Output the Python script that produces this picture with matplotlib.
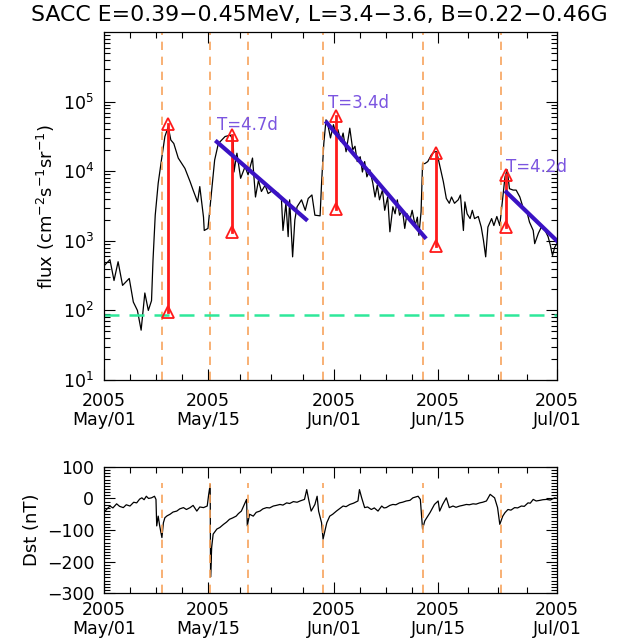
import numpy as np
import matplotlib
matplotlib.use("Agg")
from matplotlib import pyplot as plt
from matplotlib.ticker import FixedLocator, MultipleLocator, LogLocator, NullFormatter

# days since 2005 May 01
flux_day = [0.0, 0.8, 1.35, 1.9, 2.5, 3.4, 3.95, 4.5, 5.0, 5.5, 5.97, 6.4, 6.6, 6.9, 7.3, 7.8,
            8.2, 8.65, 9.0, 9.4, 10.0, 10.9, 11.6, 12.0, 12.6, 12.9, 13.4, 13.5, 14.0, 14.5,
            14.9, 15.4, 16.3, 17.0, 17.4, 17.5, 17.9, 18.4, 19.0, 19.4, 20.0, 20.4, 20.8,
            21.2, 21.7, 22.1, 22.8, 23.5, 23.9, 24.1, 24.5, 24.8, 25.0, 25.4, 25.7, 26.0,
            26.6, 27.1, 27.5, 28.0, 28.4, 29.1, 29.3, 29.6, 29.9, 30.2, 30.5, 30.9, 31.2,
            31.5, 31.9, 32.2, 32.6, 32.9, 33.1, 33.5, 33.8, 34.1, 34.5, 34.8, 35.1, 35.4,
            35.8, 36.2, 36.5, 36.8, 37.1, 37.5, 37.8, 38.2, 38.5, 38.9, 39.2, 39.5, 39.8,
            40.2, 40.5, 40.8, 41.2, 41.5, 41.9, 42.2, 42.4, 42.7, 42.9, 43.2, 43.6, 44.1,
            44.5, 44.8, 45.2, 45.7, 46.1, 46.5, 46.8, 47.2, 47.7, 48.0, 48.4, 48.6, 48.9,
            49.3, 49.6, 49.9, 50.4, 50.8, 51.1, 51.4, 51.7, 52.2, 52.5, 52.9, 53.3, 53.4,
            53.7, 54.0, 54.3, 54.6, 55.1, 55.5, 56.0, 56.4, 56.9, 57.3, 57.8, 58.0, 58.5,
            58.9, 59.4, 59.8, 60.1, 60.4, 60.7, 61.0]
flux = [437, 537, 269, 501, 229, 288, 132, 100, 52, 178, 100, 138, 525, 2340, 6760, 16200,
        31600, 43700, 28200, 25100, 15500, 11000, 7080, 5370, 3630, 6030, 2190, 1410, 1510, 5370,
        14500, 25100, 31600, 33100, 28200, 9770, 18200, 7940, 11700, 8910, 15500, 4270, 7410,
        5130, 6310, 4790, 5370, 4790, 3890, 1410, 3470, 1150, 3890, 589, 2000, 3090,
        3890, 2750, 4070, 4570, 2340, 2290, 6760, 25100, 55000, 43700, 30200, 46800, 35500,
        39800, 26900, 35500, 19100, 30200, 41700, 20400, 22900, 13800, 16200, 9770, 13800, 8320,
        10500, 6760, 4270, 6310, 3890, 5370, 2750, 4270, 1350, 3090, 2450, 3890, 2340,
        2750, 1510, 2450, 2000, 2750, 1660, 2190, 1200, 2630, 12900, 12900, 13800, 17400,
        19100, 19100, 12300, 7080, 4070, 3470, 4270, 3470, 3890, 4570, 1410, 3630, 2450,
        2090, 2750, 2090, 2240, 1580, 1020, 589, 1580, 2090, 1660, 2240, 1660, 2090,
        4270, 8320, 10500, 5620, 5370, 5370, 4270, 3090, 2750, 1860, 1410, 912, 1290,
        1580, 1410, 1150, 871, 617, 813, 912]

dst_day = [0.13, 0.8, 1.2, 1.7, 2.1, 2.6, 3.0, 3.5, 4.0, 4.4, 4.8, 5.1, 5.4, 5.7, 6.0, 6.4,
           6.8, 7.0, 7.1, 7.3, 7.5, 7.8, 8.0, 8.2, 8.5, 8.9, 9.3, 9.8, 10.2, 10.7, 11.1,
           11.6, 12.0, 12.5, 12.9, 13.4, 13.9, 14.1, 14.3, 14.32, 14.35, 14.5, 14.7,
           15.2, 15.6, 16.1, 16.5, 16.9, 17.3, 17.8, 18.1, 18.5, 19.0, 19.2, 19.3, 19.6,
           20.1, 20.5, 21.0, 21.4, 21.9, 22.3, 22.8, 23.2, 23.7, 24.1, 24.6, 25.0, 25.5,
           26.0, 26.4, 27.0, 27.3, 27.6, 27.9, 28.4, 28.7, 28.9, 29.3, 29.5,
           29.7, 30.0, 30.4, 30.8, 31.3, 31.7, 32.2, 32.6, 33.1, 33.6, 34.2, 34.4, 34.7,
           35.1, 35.5, 36.0, 36.4, 36.9, 37.4, 37.7, 38.0, 38.5, 38.9, 39.3, 39.8, 40.2,
           40.7, 41.2, 41.6, 42.3, 42.6, 42.9, 43.2, 43.5, 43.9, 44.5, 45.0, 45.2,
           45.6, 46.1, 46.5, 47.0, 47.4, 47.9, 48.3, 48.8, 49.2, 49.7, 50.1, 50.6, 51.0,
           51.5, 52.0, 52.6, 53.0, 53.3, 53.7, 54.0, 54.4, 54.8, 55.3, 55.7, 56.2, 56.6,
           57.1, 57.4, 57.8, 58.2, 58.7, 59.1, 59.6, 60.1, 60.7, 61.0]
dst = [-40, -24, -30, -17, -25, -29, -20, -24, -12, -14, -2, 2, -4, 7, 0, 2,
       7, -3, -87, -56, -87, -124, -77, -61, -55, -50, -43, -40, -33, -29, -35,
       -29, -22, -40, -27, -29, -24, 13, 44, -50, -249, -155, -113,
       -97, -92, -82, -75, -66, -62, -56, -48, -40, -14, -3, -87, -50,
       -56, -44, -40, -33, -29, -30, -24, -22, -19, -21, -14, -16, -10,
       -12, -8, -3, 28, -8, -40, -19, 7, -40, -77, -129,
       -108, -77, -56, -50, -40, -33, -24, -26, -19, -15, -8, 28, 2,
       -29, -27, -35, -30, -40, -24, -30, -29, -22, -19, -20, -14, -12,
       -8, -6, 2, 7, -3, -97, -71, -60, -45, -19, -8, -40,
       -19, 2, -29, -24, -28, -24, -22, -19, -20, -17, -18, -14, -12,
       -8, 13, 2, -29, -82, -56, -45, -35, -37, -29, -30, -24, -25,
       -14, -15, -3, -8, -6, -4, -3, -5, 2, 0]

event_day = [7.8, 14.3, 19.4, 29.5, 42.9, 53.4]

arrow_day = [8.6, 17.2, 31.2, 44.7, 54.2]
arrow_top = [48000, 33000, 63000, 18400, 8900]
arrow_bot = [96, 1330, 2860, 835, 1580]

fit_day0 = [15.2, 30.0, 54.2]
fit_val0 = [26500, 50000, 5000]
fit_day1 = [27.2, 43.2, 61.0]
fit_val1 = [2040, 1130, 1000]
fit_label = ['T=4.7d', 'T=3.4d', 'T=4.2d']
label_day = [15.2, 30.1, 54.2]
label_val = [46600, 97000, 11500]

background = 85

tick_day = [0, 14, 31, 45, 61]
tick_text = ['2005\nMay/01', '2005\nMay/15', '2005\nJun/01', '2005\nJun/15', '2005\nJul/01']

orange = '#f7a35c'
fs = 12.5

fig = plt.figure(figsize=(6.38, 6.44), dpi=100)
ax1 = fig.add_axes([0.163, 0.410, 0.710, 0.540])
ax2 = fig.add_axes([0.163, 0.079, 0.710, 0.196])

# top panel
ax1.plot(flux_day, flux, color='black', lw=0.9)
for d in event_day:
    ax1.axvline(d, color=orange, ls=(0, (5, 4)), lw=1.2)
ax1.axhline(background, color='#2ee89a', ls=(0, (6, 4)), lw=1.8)
for d, t, b in zip(arrow_day, arrow_top, arrow_bot):
    ax1.plot([d, d], [b, t], color='#ff1a1a', lw=2)
    ax1.plot([d, d], [b, t], ls='none', marker='^', ms=8, mfc='none', mec='#ff1a1a', mew=1.3)
for x0, y0, x1, y1 in zip(fit_day0, fit_val0, fit_day1, fit_val1):
    ax1.plot([x0, x1], [y0, y1], color='#3a12c4', lw=3)
for txt, x, y in zip(fit_label, label_day, label_val):
    ax1.text(x, y, txt, color='#7b55e0', fontsize=12, va='center', ha='left')

ax1.set_yscale('log')
ax1.set_ylim(10, 1e6)
ax1.set_xlim(0, 61)
ax1.yaxis.set_major_locator(FixedLocator([1e1, 1e2, 1e3, 1e4, 1e5]))
ax1.yaxis.set_minor_locator(LogLocator(base=10, subs=np.arange(2, 10), numticks=10))
ax1.yaxis.set_minor_formatter(NullFormatter())
ax1.set_ylabel('flux (cm$^{-2}$s$^{-1}$sr$^{-1}$)', fontsize=13, labelpad=4)

# bottom panel
ax2.plot(dst_day, dst, color='black', lw=0.9)
for d in event_day:
    ax2.vlines(d, -300, 50, color=orange, ls=(0, (5, 4)), lw=1.2)
ax2.set_xlim(0, 61)
ax2.set_ylim(-300, 100)
ax2.yaxis.set_major_locator(MultipleLocator(100))
ax2.yaxis.set_minor_locator(MultipleLocator(10))
ax2.set_ylabel('Dst (nT)', fontsize=13, labelpad=4)

for ax, xpad in ((ax1, 9), (ax2, 6)):
    ax.set_xticks(tick_day)
    ax.set_xticklabels(tick_text, linespacing=1.05)
    minor = []
    for a, b in zip(tick_day[:-1], tick_day[1:]):
        minor += [a + (b - a) * k / 4 for k in (1, 2, 3)]
    ax.xaxis.set_minor_locator(FixedLocator(minor))
    ax.tick_params(which='both', direction='in', top=True, right=True, labelsize=fs)
    ax.tick_params(axis='x', pad=xpad)
    ax.tick_params(axis='y', pad=7)
    ax.tick_params(which='major', length=8, width=0.8)
    ax.tick_params(which='minor', length=4, width=0.8)
    for s in ax.spines.values():
        s.set_linewidth(0.9)

fig.text(0.5, 0.977, 'SACC E=0.39\u22120.45MeV, L=3.4\u22123.6, B=0.22\u22120.46G',
         ha='center', va='center', fontsize=15.8)

fig.savefig('out.png', dpi=100)
